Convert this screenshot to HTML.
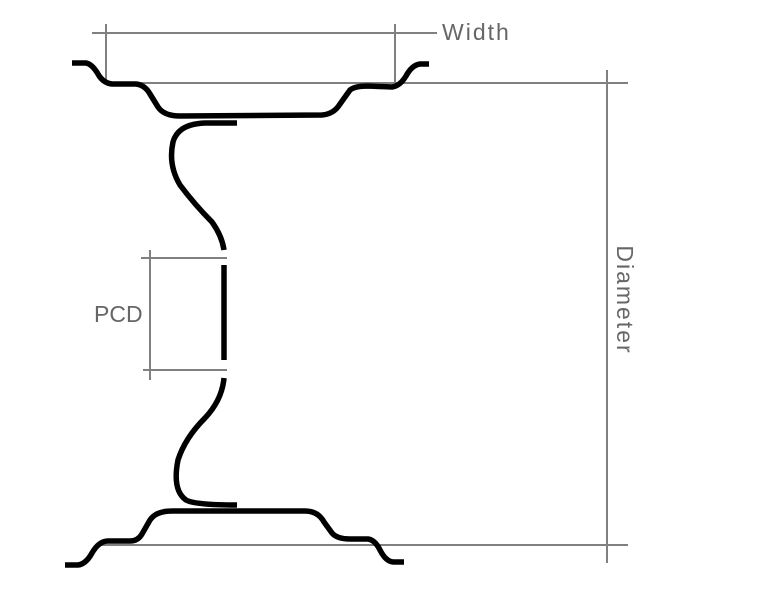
<!DOCTYPE html>
<html><head><style>body{margin:0;background:#fff}svg{display:block}</style></head><body>
<svg width="768" height="591" viewBox="0 0 768 591" xmlns="http://www.w3.org/2000/svg">
<g stroke="#808080" stroke-width="2" fill="none">
<line x1="92" y1="33" x2="437" y2="33"/>
<line x1="106" y1="24" x2="106" y2="83"/>
<line x1="395" y1="24" x2="395" y2="83"/>
<line x1="106" y1="83" x2="628" y2="83"/>
<line x1="100" y1="545" x2="628" y2="545"/>
<line x1="607" y1="70" x2="607" y2="563"/>
<line x1="150" y1="250" x2="150" y2="380"/>
<line x1="141" y1="258" x2="227" y2="258"/>
<line x1="143" y1="370" x2="227" y2="370"/>
</g>
<g stroke="#000" stroke-width="5.5" fill="none" stroke-linejoin="round">
<path d="M72,63 L86,63 Q92,64 98,74 Q103,83 112,84 L136,84 Q145,85 150,94 L158,107 Q164,116 180,116 L322,115 Q334,114 340,104 L350,90 Q355,86 368,86 L392,87 Q400,86 406,76 Q412,65 420,64 L429,64"/>
<path d="M237,123 L205,123 Q178,124 173,142 Q168,165 180,185 Q195,205 212,222 Q222,236 224,250"/>
<path d="M224,265 L224,360"/>
<path d="M224,378 Q222,400 205,418 Q185,438 178,460 Q172,490 186,500 Q195,505 237,505"/>
<path d="M65,565 L78,565 Q86,564 92,553 Q99,541 108,541 L130,541 Q138,541 142,534 L150,520 Q156,511 172,511 L305,511 Q318,511 324,522 L332,533 Q337,539 350,539 L368,539 Q375,540 380,550 Q386,562 394,562 L404,562"/>
</g>
<g fill="#666" font-family="Liberation Sans, sans-serif" font-size="23">
<text x="442" y="40" letter-spacing="2">Width</text>
<text x="94" y="322">PCD</text>
<text transform="translate(617,300) rotate(90)" text-anchor="middle" letter-spacing="2">Diameter</text>
</g>
</svg>
</body></html>
